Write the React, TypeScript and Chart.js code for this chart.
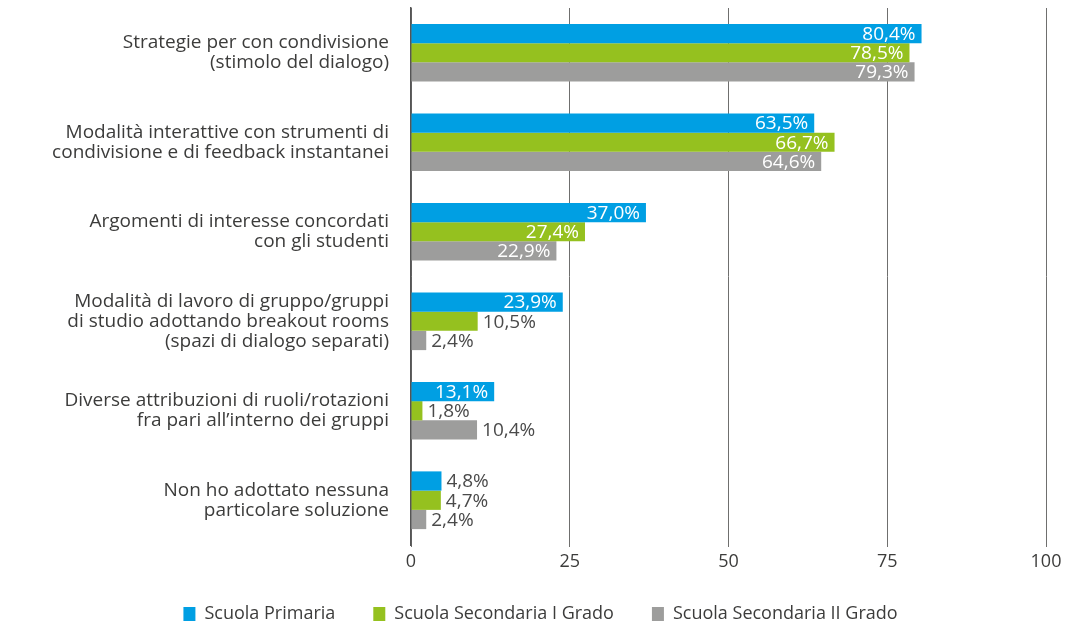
import React, { useEffect, useRef } from "react";
import { Chart, registerables } from "chart.js";

Chart.register(...registerables);

const categories: string[][] = [
  ["Strategie per con condivisione", "(stimolo del dialogo)"],
  ["Modalità interattive con strumenti di", "condivisione e di feedback instantanei"],
  ["Argomenti di interesse concordati", "con gli studenti"],
  ["Modalità di lavoro di gruppo/gruppi", "di studio adottando breakout rooms", "(spazi di dialogo separati)"],
  ["Diverse attribuzioni di ruoli/rotazioni", "fra pari all’interno dei gruppi"],
  ["Non ho adottato nessuna", "particolare soluzione"],
];

const primaria = [80.4, 63.5, 37.0, 23.9, 13.1, 4.8];
const secondariaI = [78.5, 66.7, 27.4, 10.5, 1.8, 4.7];
const secondariaII = [79.3, 64.6, 22.9, 2.4, 10.4, 2.4];

const seriesNames = ["Scuola Primaria", "Scuola Secondaria I Grado", "Scuola Secondaria II Grado"];
const seriesColors = ["#009FE3", "#95C11F", "#9D9D9C"];
const xTicks = [0, 25, 50, 75, 100];

const FONT = "'Open Sans', 'DejaVu Sans', sans-serif";
const TEXT = "#3c3c3b";

const valueLabels = {
  id: "valueLabels",
  afterDatasetsDraw(chart: any) {
    const ctx = chart.ctx;
    ctx.save();
    ctx.font = `19px ${FONT}`;
    ctx.textBaseline = "middle";
    chart.data.datasets.forEach((ds: any, di: number) => {
      const meta = chart.getDatasetMeta(di);
      meta.data.forEach((bar: any, i: number) => {
        const v = ds.data[i] as number;
        const txt = v.toFixed(1).replace(".", ",") + "%";
        if (v >= 12) {
          ctx.fillStyle = "#ffffff";
          ctx.textAlign = "right";
          ctx.fillText(txt, bar.x - 6, bar.y + 1);
        } else {
          ctx.fillStyle = "#4a4a4a";
          ctx.textAlign = "left";
          ctx.fillText(txt, bar.x + 5, bar.y + 1);
        }
      });
    });
    ctx.restore();
  },
};

export default function App() {
  const ref = useRef<HTMLCanvasElement>(null);
  useEffect(() => {
    document.body.style.margin = "0";
    const chart = new Chart(ref.current!, {
      type: "bar",
      data: {
        labels: categories,
        datasets: [primaria, secondariaI, secondariaII].map((d, k) => ({
          label: seriesNames[k],
          data: d,
          backgroundColor: seriesColors[k],
          borderWidth: 0,
          barPercentage: 1,
          categoryPercentage: 0.645,
        })),
      },
      options: {
        indexAxis: "y",
        animation: false,
        responsive: false,
        layout: { padding: { top: 8, right: 44, bottom: -9, left: 35 } },
        scales: {
          x: {
            min: 0,
            max: 100,
            afterBuildTicks: (s: any) => {
              s.ticks = xTicks.map((v) => ({ value: v }));
            },
            afterFit: (s: any) => {
              s.height = 22;
              s.paddingLeft = 0;
              s.paddingRight = 0;
            },
            grid: { color: "#6f6f6e", lineWidth: 1, tickLength: 2, drawOnChartArea: true },
            border: { display: false },
            ticks: { color: TEXT, font: { family: FONT, size: 18 }, padding: 4 },
          },
          y: {
            afterFit: (s: any) => {
              s.width = 376;
              s.paddingTop = 0;
              s.paddingBottom = 0;
            },
            grid: { display: false },
            border: { display: true, color: "#555555", width: 1.5 },
            ticks: {
              color: TEXT,
              font: { family: FONT, size: 19, lineHeight: 1.05 },
              padding: 14,
            },
          },
        },
        plugins: {
          legend: {
            position: "bottom",
            labels: {
              color: TEXT,
              font: { family: FONT, size: 18 },
              boxWidth: 12,
              boxHeight: 14,
              padding: 38,
            },
          },
          tooltip: { enabled: false },
        },
      },
      plugins: [valueLabels],
    });
    return () => chart.destroy();
  }, []);
  return (
    <div style={{ position: "absolute", left: 0, top: 0, width: 1090, height: 624 }}>
      <canvas ref={ref} width={1090} height={624} />
    </div>
  );
}
